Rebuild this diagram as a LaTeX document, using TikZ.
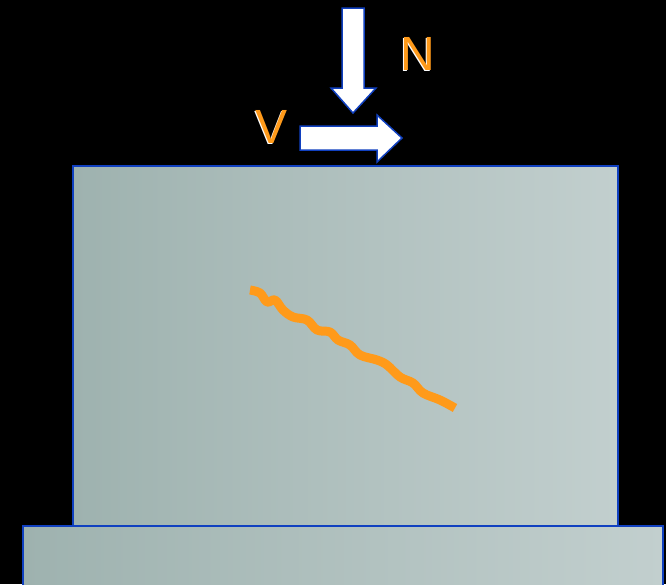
\documentclass[tikz,border=0pt]{standalone}
\usepackage{fontspec}
\setmainfont{Liberation Sans}
\definecolor{edge}{HTML}{1040C0}
\definecolor{gl}{HTML}{9EB2AF}
\definecolor{gr}{HTML}{C2CFCE}
\definecolor{crack}{HTML}{FF9A1A}
\begin{document}
\begin{tikzpicture}[x=1pt,y=-1pt,
  block/.style={draw=edge,line width=2pt,left color=gl,right color=gr},
  force/.style={fill=white,draw=edge,line width=1.5pt,line join=miter},
  lbl/.style={font=\fontsize{48}{48}\selectfont,inner sep=0pt,anchor=base}]
\fill[black] (0,0) rectangle (666,584);
\useasboundingbox (0,0) rectangle (666,584);
\node[block,minimum width=640,minimum height=62,inner sep=0pt,anchor=north west] (base) at (22,525) {};
\node[block,minimum width=545,minimum height=360,inner sep=0pt,anchor=north west] (wall) at (72,165) {};
\draw[crack,line width=9pt,line join=round] plot[smooth,tension=0.6] coordinates {
 (250,290) (260,293) (267,302) (275,300) (283,310) (293,317) (307,320) (317,330)
 (330,332) (338,340) (350,345) (360,355) (377,360) (387,365) (400,377) (413,383)
 (423,393) (440,400) (455,408)};
\draw[force] (342,8) -- (364,8) -- (364,88) -- (376,88) -- (353,113) -- (331,88) -- (342,88) -- cycle;
\draw[force] (300,126) -- (377,126) -- (377,115) -- (402,138) -- (377,162) -- (377,150) -- (300,150) -- cycle;
\node[lbl,white] (Ns) at (416.5,71) {N};
\node[lbl,crack] (N) at (418,70) {N};
\node[lbl,white] (Vs) at (270.5,144) {V};
\node[lbl,crack] (V) at (272,143) {V};
\end{tikzpicture}
\end{document}
